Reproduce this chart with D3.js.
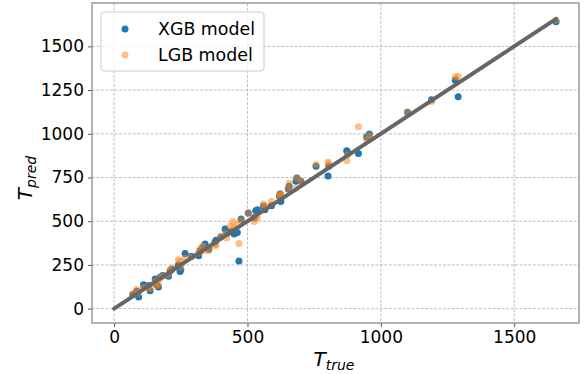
<!DOCTYPE html>
<html>
<head>
<meta charset="utf-8">
<script src="https://cdn.jsdelivr.net/npm/d3@7"></script>
<style>
  body { margin: 0; background: #fff; }
  svg { font-family: "DejaVu Sans", sans-serif; }
</style>
</head>
<body>
<div id="chart"></div>
<script>
// test set: true values and the two model predictions
const trueVals = [70, 85, 92, 110, 129, 135, 154, 160, 166, 172, 182, 204, 210, 216, 241, 247, 250, 266, 290, 317,
  322, 332, 341, 355, 378, 382, 400, 416, 422, 435, 445, 450, 462, 468, 476, 503, 525, 531, 537, 560,
  565, 590, 620, 622, 625, 653, 656, 682, 685, 700, 757, 802, 805, 872, 875, 916, 947, 957, 1100, 1190,
  1279, 1290, 1657]
const xgbPred = [80, 100, 67, 137, 132, 103, 170, 135, 124, 180, 190, 185, 215, 225, 250, 212, 223, 315, 300, 303,
  330, 350, 370, 340, 380, 391, 410, 456, 430, 440, 442, 427, 436, 273, 513, 547, 520, 560, 566, 585,
  566, 589, 642, 656, 613, 685, 700, 728, 747, 728, 814, 759, 814, 903, 895, 888, 982, 999, 1123, 1195,
  1306, 1212, 1641]
const lgbPred = [86, 109, 90, 120, 125, 115, 156, 132, 141, 176, 185, 195, 223, 233, 280, 271, 240, 290, 295, 320,
  341, 360, 332, 332, 360, 366, 413, 430, 404, 471, 499, 461, 480, 372, 505, 547, 499, 528, 519, 599,
  589, 614, 646, 650, 656, 685, 717, 688, 747, 728, 825, 839, 829, 846, 880, 1041, 970, 990, 1123, 1185,
  1325, 1328, 1649]
const xTicks = [0, 500, 1000, 1500]
const yTicks = [0, 250, 500, 750, 1000, 1250, 1500]
const seriesNames = ['XGB model', 'LGB model']

const width = 584, height = 374
const margin = { left: 92, right: 5, top: 3, bottom: 51 }

const svg = d3.select('#chart').append('svg')
  .attr('width', width)
  .attr('height', height)

const x = d3.scaleLinear().domain([-83, 1743]).range([margin.left, width - margin.right])
const y = d3.scaleLinear().domain([-82, 1748]).range([height - margin.bottom, margin.top])

// grid
svg.append('g').selectAll('line').data(xTicks).enter().append('line')
  .attr('x1', d => x(d)).attr('x2', d => x(d))
  .attr('y1', margin.top).attr('y2', height - margin.bottom)
  .attr('stroke', '#b0b0b0').attr('stroke-width', 0.8).attr('stroke-dasharray', '3,1.5')
svg.append('g').selectAll('line').data(yTicks).enter().append('line')
  .attr('x1', margin.left).attr('x2', width - margin.right)
  .attr('y1', d => y(d)).attr('y2', d => y(d))
  .attr('stroke', '#b0b0b0').attr('stroke-width', 0.8).attr('stroke-dasharray', '3,1.5')

// axes
const xAxis = svg.append('g')
  .attr('transform', `translate(0,${height - margin.bottom})`)
  .call(d3.axisBottom(x).tickValues(xTicks).tickSize(4).tickPadding(4).tickFormat(d3.format('d')))
const yAxis = svg.append('g')
  .attr('transform', `translate(${margin.left},0)`)
  .call(d3.axisLeft(y).tickValues(yTicks).tickSize(4).tickPadding(4).tickFormat(d3.format('d')))
;[xAxis, yAxis].forEach(a => {
  a.select('.domain').remove()
  a.selectAll('.tick line').attr('stroke', '#555')
  a.selectAll('.tick text').attr('font-size', 17).attr('fill', '#000')
    .attr('font-family', '"DejaVu Sans", sans-serif')
})

// points
const pts = trueVals.map((t, i) => ({ t, xgb: xgbPred[i], lgb: lgbPred[i] }))
svg.append('g').selectAll('circle').data(pts).enter().append('circle')
  .attr('cx', d => x(d.t)).attr('cy', d => y(d.xgb)).attr('r', 3.5)
  .attr('fill', '#1f77b4')
svg.append('g').selectAll('circle').data(pts).enter().append('circle')
  .attr('cx', d => x(d.t)).attr('cy', d => y(d.lgb)).attr('r', 3.5)
  .attr('fill', '#ff7f0e').attr('fill-opacity', 0.5)

// identity line
const maxT = d3.max(trueVals)
svg.append('line')
  .attr('x1', x(0)).attr('y1', y(0))
  .attr('x2', x(maxT)).attr('y2', y(maxT))
  .attr('stroke', '#666').attr('stroke-width', 4).attr('stroke-linecap', 'round')

// frame
svg.append('rect')
  .attr('x', margin.left).attr('y', margin.top)
  .attr('width', width - margin.left - margin.right)
  .attr('height', height - margin.top - margin.bottom)
  .attr('fill', 'none').attr('stroke', '#808080').attr('stroke-width', 1.2)

// axis labels
const xl = svg.append('text')
  .attr('x', 334).attr('y', 366).attr('text-anchor', 'middle')
  .attr('font-size', 20)
xl.append('tspan').attr('font-style', 'italic').text('T')
xl.append('tspan').attr('font-style', 'italic').attr('font-size', 14).attr('dy', 4).text('true')

const yl = svg.append('text')
  .attr('transform', 'translate(32,178) rotate(-90)')
  .attr('text-anchor', 'middle')
  .attr('font-size', 20)
yl.append('tspan').attr('font-style', 'italic').text('T')
yl.append('tspan').attr('font-style', 'italic').attr('font-size', 14).attr('dy', 4).text('pred')

// legend
const lg = svg.append('g')
lg.append('rect')
  .attr('x', 101).attr('y', 12).attr('width', 163).attr('height', 59).attr('rx', 3)
  .attr('fill', '#fff').attr('fill-opacity', 0.8).attr('stroke', '#ccc').attr('stroke-width', 1)
const legColors = [['#1f77b4', 1], ['#ff7f0e', 0.5]]
seriesNames.forEach((name, i) => {
  lg.append('circle')
    .attr('cx', 125).attr('cy', 29 + i * 26).attr('r', 3.5)
    .attr('fill', legColors[i][0]).attr('fill-opacity', legColors[i][1])
  lg.append('text')
    .attr('x', 158).attr('y', 35 + i * 26)
    .attr('font-size', 17.4).text(name)
})
</script>
</body>
</html>
